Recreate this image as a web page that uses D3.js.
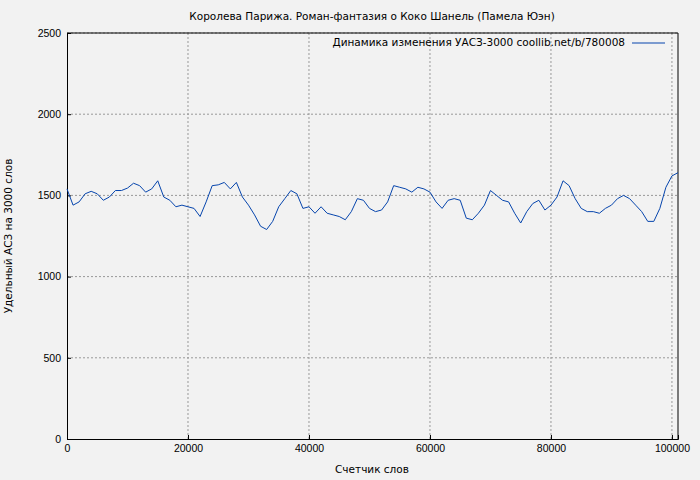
<!DOCTYPE html>
<html><head><meta charset="utf-8">
<script src="https://cdn.jsdelivr.net/npm/d3@7"></script>
<style>body{margin:0;background:#f2f2f2}</style>
</head><body>
<div id="chart"></div>
<script>
var words = d3.range(0, 101001, 1000);
var asl = [1540,1440,1460,1510,1525,1510,1470,1490,1530,1530,1545,1575,1560,1520,1540,1590,1490,1470,1430,1440,
  1430,1420,1370,1460,1560,1565,1580,1540,1580,1490,1440,1380,1310,1290,1340,1430,1480,1530,1510,1420,
  1430,1390,1430,1390,1380,1370,1350,1400,1480,1470,1420,1400,1410,1460,1560,1550,1540,1520,1550,1540,
  1520,1460,1420,1470,1480,1470,1360,1350,1390,1440,1530,1500,1470,1460,1390,1330,1400,1450,1470,1410,
  1440,1490,1590,1560,1480,1420,1400,1400,1390,1420,1440,1480,1500,1480,1440,1400,1340,1340,1420,1550,
  1620,1640];
var xTicks = [0,20000,40000,60000,80000,100000];
var yTicks = [0,500,1000,1500,2000,2500];

var margin = {top: 33, right: 22, bottom: 41, left: 67},
    width = 700 - margin.left - margin.right,
    height = 480 - margin.top - margin.bottom;

var svg = d3.select("#chart").append("svg")
  .attr("width", 700).attr("height", 480)
  .style("font-family", "DejaVu Sans").style("font-size", "10.5px");

svg.append("rect").attr("width", 700).attr("height", 480).attr("fill", "#f2f2f2");

var g = svg.append("g").attr("transform", "translate(" + margin.left + "," + margin.top + ")");

var x = d3.scaleLinear().domain([0, 101000]).range([0, width]);
var y = d3.scaleLinear().domain([0, 2500]).range([height, 0]);

// grid
g.selectAll(".gx").data(xTicks.slice(1)).enter().append("line")
  .attr("x1", d => x(d)).attr("x2", d => x(d)).attr("y1", 0).attr("y2", height)
  .attr("stroke", "#999").attr("stroke-dasharray", "2,2");
g.selectAll(".gy").data(yTicks.slice(1)).enter().append("line")
  .attr("x1", 0).attr("x2", width).attr("y1", d => y(d)).attr("y2", d => y(d))
  .attr("stroke", "#999").attr("stroke-dasharray", "2,2");

g.append("g").attr("transform", "translate(0," + height + ")")
  .call(d3.axisBottom(x).tickValues(xTicks).tickFormat(d3.format("d")).tickSize(-4).tickPadding(6))
  .call(a => a.selectAll("text").attr("fill", "#000").style("font-size", "10.5px"));
g.append("g")
  .call(d3.axisLeft(y).tickValues(yTicks).tickFormat(d3.format("d")).tickSize(-4).tickPadding(6))
  .call(a => a.selectAll("text").attr("fill", "#000").style("font-size", "10.5px"));
g.append("line").attr("x1", width).attr("x2", width).attr("y1", 0).attr("y2", height).attr("stroke", "#000");
g.append("line").attr("x1", 0).attr("x2", width).attr("y1", 0).attr("y2", 0).attr("stroke", "#000");

g.append("path").datum(words.map((w, i) => [w, asl[i]]))
  .attr("fill", "none").attr("stroke", "#0645ad").attr("stroke-width", 1)
  .attr("d", d3.line().x(d => x(d[0])).y(d => y(d[1])));

svg.append("text").attr("x", 372).attr("y", 20).attr("text-anchor", "middle")
  .text("Королева Парижа. Роман-фантазия о Коко Шанель (Памела Юэн)");
svg.append("text").attr("x", 372).attr("y", 473).attr("text-anchor", "middle").text("Счетчик слов");
svg.append("text").attr("transform", "translate(12,236) rotate(-90)").attr("text-anchor", "middle")
  .text("Удельный АСЗ на 3000 слов");
svg.append("text").attr("x", 625).attr("y", 46).attr("text-anchor", "end")
  .text("Динамика изменения УАСЗ-3000 coollib.net/b/780008");
svg.append("line").attr("x1", 632).attr("x2", 665).attr("y1", 43).attr("y2", 43).attr("stroke", "#0645ad");
</script>
</body></html>
